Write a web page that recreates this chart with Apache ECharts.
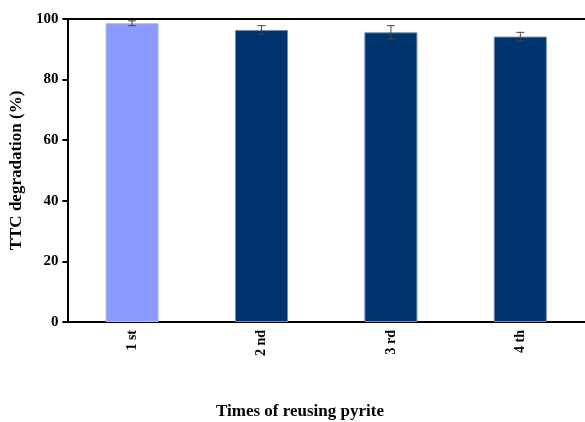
<!DOCTYPE html>
<html><head><meta charset="utf-8">
<script src="https://cdn.jsdelivr.net/npm/echarts@6/dist/echarts.min.js"></script>
<style>html,body{margin:0;padding:0;background:#fff}#c{width:585px;height:422px}</style>
</head><body><div id="c"></div>
<script>
const categories = ['1 st', '2 nd', '3 rd', '4 th'];
const degradation = [98.6, 96.4, 95.6, 94.2];
const errors = [0.8, 1.4, 2.2, 1.4];
const barColors = ['#8A9BFF', '#00346E', '#00346E', '#00346E'];
const yTicks = [0, 20, 40, 60, 80, 100];

const chart = echarts.init(document.getElementById('c'));
const font = '"Liberation Serif", "Times New Roman", serif';
chart.setOption({
  animation: false,
  grid: { left: 67, right: 0, top: 19, bottom: 100, containLabel: false },
  graphic: [
    { type: 'line', shape: { x1: 67, y1: 19, x2: 585, y2: 19 }, style: { stroke: '#000', lineWidth: 2 } },
    { type: 'text', left: 216, top: 403, style: { text: 'Times of reusing pyrite', font: 'bold 17px ' + font, fill: '#000' } }
  ],
  xAxis: {
    type: 'category', data: categories,
    axisLine: { lineStyle: { color: '#000', width: 2 } },
    axisTick: { show: false },
    axisLabel: { rotate: 90, fontFamily: font, fontWeight: 'bold', fontSize: 14, color: '#000', margin: 8 }
  },
  yAxis: {
    type: 'value', min: 0, max: 100, interval: 20,
    name: 'TTC degradation (%)', nameLocation: 'middle', nameGap: 42,
    nameTextStyle: { fontFamily: font, fontWeight: 'bold', fontSize: 17, color: '#000' },
    axisLine: { show: true, lineStyle: { color: '#000', width: 2 } },
    axisTick: { show: true, inside: false, length: 5, lineStyle: { color: '#000', width: 2 } },
    splitLine: { show: false },
    axisLabel: { fontFamily: font, fontWeight: 'bold', fontSize: 15, color: '#000', margin: 9,
      formatter: v => yTicks.includes(v) ? String(v) : '' }
  },
  series: [
    {
      type: 'bar', barWidth: '41%',
      data: degradation.map((v, i) => ({ value: v, itemStyle: { color: barColors[i], borderColor: i ? '#6f8fb8' : '#a9b6ff', borderWidth: 1 } })),
      z: 2
    },
    {
      type: 'custom', z: 3,
      data: degradation.map((v, i) => [i, v, errors[i]]),
      renderItem: (params, api) => {
        const x = api.value(0), v = api.value(1), e = api.value(2);
        const hi = api.coord([x, v + e]), lo = api.coord([x, v - e]);
        const w = 4;
        const st = { stroke: '#444', lineWidth: 1 };
        return { type: 'group', children: [
          { type: 'line', shape: { x1: hi[0], y1: hi[1], x2: lo[0], y2: lo[1] }, style: st },
          { type: 'line', shape: { x1: hi[0] - w, y1: hi[1], x2: hi[0] + w, y2: hi[1] }, style: st },
          { type: 'line', shape: { x1: lo[0] - w, y1: lo[1], x2: lo[0] + w, y2: lo[1] }, style: st }
        ]};
      }
    }
  ]
});
</script></body></html>
